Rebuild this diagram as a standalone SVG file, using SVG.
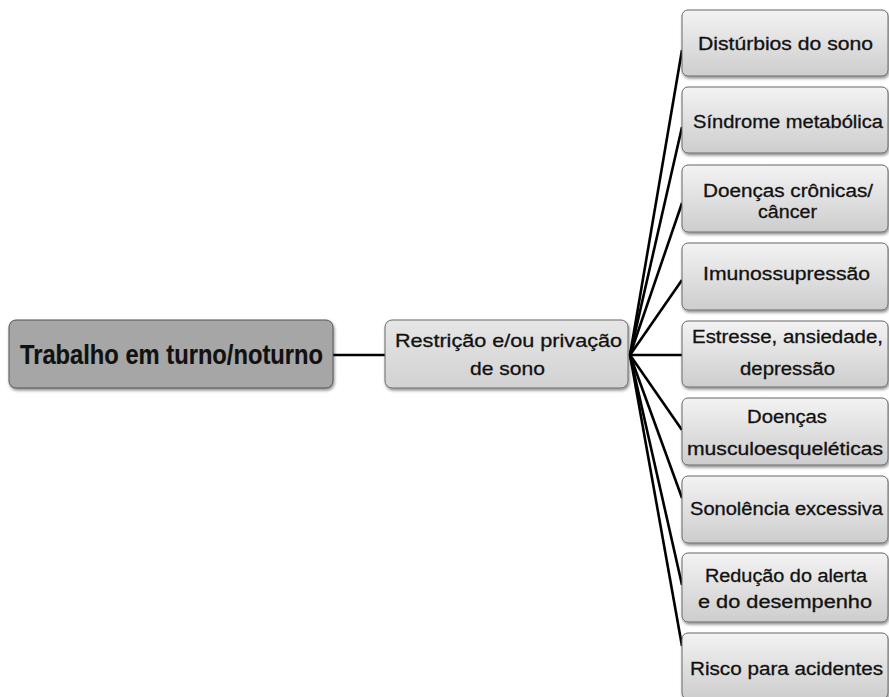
<svg xmlns="http://www.w3.org/2000/svg" width="889" height="697" viewBox="0 0 889 697">
<style>
.box{fill:url(#g);stroke:#6a6a6a;stroke-width:1;filter:url(#sh)}
.t{font-family:"Liberation Sans",Arial,sans-serif;font-size:18px;fill:#111;stroke:#111;stroke-width:0.3;text-anchor:middle}
.c{stroke:#000;stroke-width:2.6;fill:none}
</style>
<defs>
<linearGradient id="g" x1="0" y1="0" x2="0" y2="1">
<stop offset="0" stop-color="#f3f3f3"/>
<stop offset="1" stop-color="#cdcdcd"/>
</linearGradient>
<linearGradient id="g2" x1="0" y1="0" x2="0" y2="1">
<stop offset="0" stop-color="#e6e6e6"/>
<stop offset="1" stop-color="#d2d2d2"/>
</linearGradient>
<filter id="sh" x="-10%" y="-10%" width="120%" height="130%">
<feDropShadow dx="1" dy="2" stdDeviation="1.5" flood-color="#000" flood-opacity="0.45"/>
</filter>
</defs>
<rect width="889" height="697" fill="#fff"/>
<g id="connectors">
<line class="c" x1="333" y1="355" x2="385" y2="355"/>
<line class="c" x1="630" y1="355" x2="682" y2="50"/>
<line class="c" x1="630" y1="355" x2="682" y2="127"/>
<line class="c" x1="630" y1="355" x2="682" y2="203"/>
<line class="c" x1="630" y1="355" x2="682" y2="280"/>
<line class="c" x1="630" y1="355" x2="682" y2="355"/>
<line class="c" x1="630" y1="355" x2="682" y2="430"/>
<line class="c" x1="630" y1="355" x2="682" y2="498"/>
<line class="c" x1="630" y1="355" x2="682" y2="585"/>
<line class="c" x1="630" y1="355" x2="682" y2="646"/>
</g>
<g id="n-trabalho">
<rect x="9" y="320" width="324" height="68" rx="7" fill="#a6a6a6" stroke="#555" stroke-width="1" filter="url(#sh)"/>
<text class="t" x="171.5" y="364" style="font-size:27px;font-weight:bold;stroke-width:0.2" textLength="303" lengthAdjust="spacingAndGlyphs">Trabalho em turno/noturno</text>
</g>
<g id="n-restricao">
<rect x="385" y="320" width="243" height="68" rx="7" fill="url(#g2)" stroke="#6a6a6a" stroke-width="1" filter="url(#sh)"/>
<text class="t" x="508.5" y="347" style="font-size:19px" textLength="227" lengthAdjust="spacingAndGlyphs">Restrição  e/ou privação</text>
<text class="t" x="507.5" y="375" style="font-size:19px" textLength="75" lengthAdjust="spacingAndGlyphs">de sono</text>
</g>
<g id="n1">
<rect class="box" x="682" y="10" width="206" height="66" rx="6"/>
<text class="t" x="785.5" y="50" textLength="175" lengthAdjust="spacingAndGlyphs">Distúrbios do sono</text>
</g>
<g id="n2">
<rect class="box" x="682" y="87" width="206" height="66" rx="6"/>
<text class="t" x="788" y="128" textLength="190" lengthAdjust="spacingAndGlyphs">Síndrome metabólica</text>
</g>
<g id="n3">
<rect class="box" x="682" y="165" width="206" height="67" rx="6"/>
<text class="t" x="788" y="197" textLength="170" lengthAdjust="spacingAndGlyphs">Doenças crônicas/</text>
<text class="t" x="787.5" y="218" textLength="59" lengthAdjust="spacingAndGlyphs">câncer</text>
</g>
<g id="n4">
<rect class="box" x="682" y="243" width="206" height="67" rx="6"/>
<text class="t" x="786.5" y="280" textLength="167" lengthAdjust="spacingAndGlyphs">Imunossupressão</text>
</g>
<g id="n5">
<rect class="box" x="682" y="321" width="206" height="66" rx="6"/>
<text class="t" x="787.5" y="343" textLength="191" lengthAdjust="spacingAndGlyphs">Estresse, ansiedade,</text>
<text class="t" x="787.5" y="375" textLength="95" lengthAdjust="spacingAndGlyphs">depressão</text>
</g>
<g id="n6">
<rect class="box" x="682" y="398" width="206" height="67" rx="6"/>
<text class="t" x="787" y="423" textLength="80" lengthAdjust="spacingAndGlyphs">Doenças</text>
<text class="t" x="785" y="455" textLength="196" lengthAdjust="spacingAndGlyphs">musculoesqueléticas</text>
</g>
<g id="n7">
<rect class="box" x="682" y="476" width="206" height="67" rx="6"/>
<text class="t" x="786.5" y="515" textLength="193" lengthAdjust="spacingAndGlyphs">Sonolência excessiva</text>
</g>
<g id="n8">
<rect class="box" x="682" y="553" width="206" height="69" rx="6"/>
<text class="t" x="786" y="582" textLength="162" lengthAdjust="spacingAndGlyphs">Redução do alerta</text>
<text class="t" x="785" y="608" textLength="174" lengthAdjust="spacingAndGlyphs">e do desempenho</text>
</g>
<g id="n9">
<rect class="box" x="682" y="633" width="206" height="66" rx="6"/>
<text class="t" x="786.5" y="675" textLength="193" lengthAdjust="spacingAndGlyphs">Risco para acidentes</text>
</g>
</svg>
